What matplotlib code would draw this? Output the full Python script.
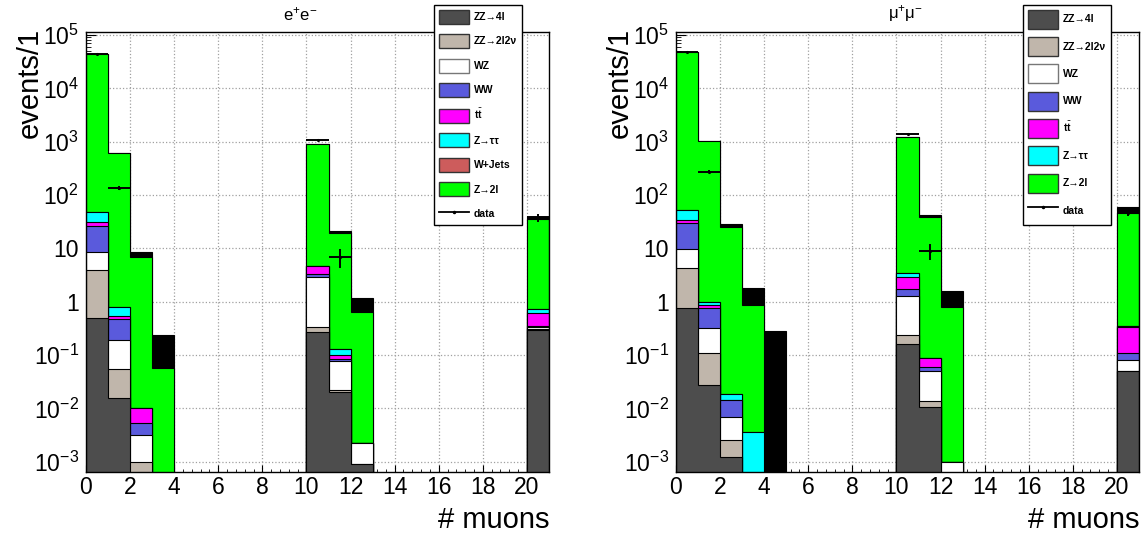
import numpy as np
import matplotlib
matplotlib.use('Agg')
import matplotlib.pyplot as plt
from matplotlib.patches import Patch
from matplotlib.lines import Line2D
from matplotlib.ticker import (FixedLocator, LogLocator, MultipleLocator,
                               FuncFormatter, NullFormatter)

plt.rcParams['font.family'] = ['Liberation Sans', 'DejaVu Sans']
plt.rcParams['mathtext.fontset'] = 'custom'
plt.rcParams['mathtext.rm'] = 'Liberation Sans'
plt.rcParams['mathtext.it'] = 'Liberation Sans:italic'
plt.rcParams['mathtext.bf'] = 'Liberation Sans:bold'

# ================================================================
# Samples (stack order, bottom -> top)
# ================================================================
labels = ['ZZ→4l', 'ZZ→2l2ν', 'WZ', 'WW', r'$\mathbf{t}\bar{\mathbf{t}}$',
          'Z→ττ', 'W+Jets', 'Z→2l']
colors = ['#4d4d4d', '#c0b6ab', '#ffffff', '#5a5adc', '#ff00ff',
          '#00ffff', '#cd5c5c', '#00ff00']

# ---- e+e- channel : bins [n, n+1) ----
ee_bins    = [0, 1, 2, 3, 10, 11, 12, 20]
ee_zz4l    = [0.5, 0.0155, 0.0004, 0, 0.27, 0.020, 0.0009, 0.30]
ee_zz2l2v  = [3.4, 0.04, 0.0006, 0, 0.06, 0.002, 0, 0.01]
ee_wz      = [4.8, 0.134, 0.0022, 0, 2.6, 0.056, 0.0013, 0.02]
ee_ww      = [18, 0.28, 0.002, 0, 0.35, 0.005, 0, 0.02]
ee_ttbar   = [5, 0.06, 0.0048, 0, 1.3, 0.017, 0, 0.27]
ee_ztautau = [17, 0.28, 0, 0, 0, 0.03, 0, 0.10]
ee_wjets   = [0, 0, 0, 0, 0, 0, 0, 0]
ee_z2l     = [45000, 615, 6.9, 0.056, 905, 19, 0.63, 35]
ee_other   = [0, 0, 1.8, 0.18, 0, 2, 0.56, 3]
ee_data    = [45000, 138, 0, 0, 1070, 7, 0, 38]

# ---- mu+mu- channel ----
mm_bins    = [0, 1, 2, 3, 4, 10, 11, 12, 20]
mm_zz4l    = [0.75, 0.027, 0.0012, 0, 0, 0.16, 0.0107, 0, 0.05]
mm_zz2l2v  = [3.45, 0.08, 0.0013, 0, 0, 0.08, 0.0033, 0, 0]
mm_wz      = [5.4, 0.21, 0.0045, 0, 0, 1.06, 0.036, 0.001, 0.031]
mm_ww      = [20, 0.46, 0.0075, 0, 0, 0.43, 0.01, 0, 0.029]
mm_ttbar   = [4, 0.09, 0, 0, 0, 1.17, 0.029, 0, 0.22]
mm_ztautau = [18, 0.13, 0.0042, 0.0036, 0, 0.5, 0, 0, 0.02]
mm_wjets   = [0, 0, 0, 0, 0, 0, 0, 0, 0]
mm_z2l     = [49000, 1044, 25.6, 0.87, 0, 1197, 38, 0.78, 45]
mm_other   = [0, 0, 3.4, 0.93, 0.28, 0, 5, 0.8, 15]
mm_data    = [48000, 275, 0, 0, 0, 1390, 9, 0, 47]

NBINS = 21
YMIN, YMAX = 6.4e-4, 1.14e5
FLOOR = 1e-6
YDECADES = [1e-3, 1e-2, 1e-1, 1, 10, 1e2, 1e3, 1e4, 1e5]


def ylabel_fmt(v, pos):
    e = int(round(np.log10(v)))
    if e == 0:
        return '1'
    if e == 1:
        return '10'
    return r'$10^{%d}$' % e


def draw_panel(ax, bins, comps, other, data, show_wjets):
    edges = np.arange(NBINS + 1)
    full = np.zeros((len(comps), NBINS))
    for k, vals in enumerate(comps):
        full[k, bins] = vals
    oth = np.zeros(NBINS)
    oth[bins] = other
    cum = np.cumsum(full, axis=0)
    total = cum[-1] + oth

    # THStack style: draw cumulative sums from the top down
    ax.stairs(np.maximum(total, FLOOR), edges, baseline=FLOOR, fill=True,
              facecolor='black', edgecolor='black', linewidth=0.8)
    for k in range(len(comps) - 1, -1, -1):
        ax.stairs(np.maximum(cum[k], FLOOR), edges, baseline=FLOOR, fill=True,
                  facecolor=colors[k], edgecolor='black', linewidth=0.8)

    d = np.zeros(NBINS)
    d[bins] = data
    m = d > 0
    xc = edges[:-1][m] + 0.5
    ax.errorbar(xc, d[m], xerr=0.5, yerr=np.sqrt(d[m]), fmt='.', color='black',
                markersize=2.5, elinewidth=1.4, capsize=0, zorder=5)

    ax.set_yscale('log')
    ax.set_xlim(0, 21)
    ax.set_ylim(YMIN, YMAX)
    ax.xaxis.set_major_locator(MultipleLocator(2))
    ax.xaxis.set_minor_locator(MultipleLocator(0.4))
    ax.yaxis.set_major_locator(FixedLocator(YDECADES))
    ax.yaxis.set_minor_locator(LogLocator(base=10, subs=np.arange(2, 10), numticks=20))
    ax.yaxis.set_major_formatter(FuncFormatter(ylabel_fmt))
    ax.yaxis.set_minor_formatter(NullFormatter())
    ax.tick_params(which='both', direction='in', top=False, right=False,
                   labelsize=16.5, colors='black')
    ax.tick_params(axis='y', which='major', length=7, pad=5)
    ax.tick_params(axis='y', which='minor', length=3.5)
    ax.tick_params(axis='x', which='major', length=5, pad=3)
    ax.tick_params(axis='x', which='minor', length=2.5)
    ax.grid(True, which='major', linestyle=':', color='#a0a0a0', linewidth=0.9)
    ax.set_axisbelow(True)
    for s in ax.spines.values():
        s.set_linewidth(1.0)

    handles = []
    for k, lab in enumerate(labels):
        if lab == 'W+Jets' and not show_wjets:
            continue
        ec = '#777777' if colors[k] == '#ffffff' else '#333333'
        handles.append(Patch(facecolor=colors[k], edgecolor=ec, linewidth=1.0, label=lab))
    handles.append(Line2D([], [], color='black', marker='.', markersize=3,
                          linewidth=1.3, label='data'))
    return handles


fig = plt.figure(figsize=(11.46, 5.37), dpi=100)
W, H = 1146.0, 537.0
ax1 = fig.add_axes([86 / W, 1 - 472 / H, 463 / W, 440 / H])
ax2 = fig.add_axes([676 / W, 1 - 472 / H, 463 / W, 440 / H])

ee_comps = [ee_zz4l, ee_zz2l2v, ee_wz, ee_ww, ee_ttbar, ee_ztautau, ee_wjets, ee_z2l]
mm_comps = [mm_zz4l, mm_zz2l2v, mm_wz, mm_ww, mm_ttbar, mm_ztautau, mm_wjets, mm_z2l]

h1 = draw_panel(ax1, ee_bins, ee_comps, ee_other, ee_data, True)
h2 = draw_panel(ax2, mm_bins, mm_comps, mm_other, mm_data, False)

fs = 7.5
fp = {'weight': 'bold', 'size': fs}
leg1 = ax1.legend(handles=h1, loc='upper left', bbox_to_anchor=(434 / W, 1 - 5 / H),
                  bbox_transform=fig.transFigure, prop=fp, frameon=True,
                  fancybox=False, framealpha=1, edgecolor='black',
                  handlelength=2.9, handleheight=1.69, labelspacing=1.0,
                  handletextpad=0.45, borderpad=0.45, borderaxespad=0)
leg1.get_frame().set_linewidth(1.0)
leg2 = ax2.legend(handles=h2, loc='upper left', bbox_to_anchor=(1023 / W, 1 - 5 / H),
                  bbox_transform=fig.transFigure, prop=fp, frameon=True,
                  fancybox=False, framealpha=1, edgecolor='black',
                  handlelength=2.9, handleheight=2.43, labelspacing=0.8,
                  handletextpad=0.45, borderpad=0.45, borderaxespad=0)
leg2.get_frame().set_linewidth(1.0)

fig.text(300 / W, 1 - 14 / H, r'e$^{+}$e$^{-}$', ha='center', va='center', fontsize=12)
fig.text(905 / W, 1 - 14 / H, r'μ$^{+}$μ$^{-}$', ha='center', va='center', fontsize=12)

for xl, xr in [(30, 549), (620, 1139)]:
    fig.text(xl / W, 1 - 28 / H, 'events/1', rotation=90, ha='center', va='top', fontsize=21)
    fig.text(xr / W, 1 - 520 / H, '# muons', ha='right', va='center', fontsize=21)

fig.savefig('out.png', dpi=100)
